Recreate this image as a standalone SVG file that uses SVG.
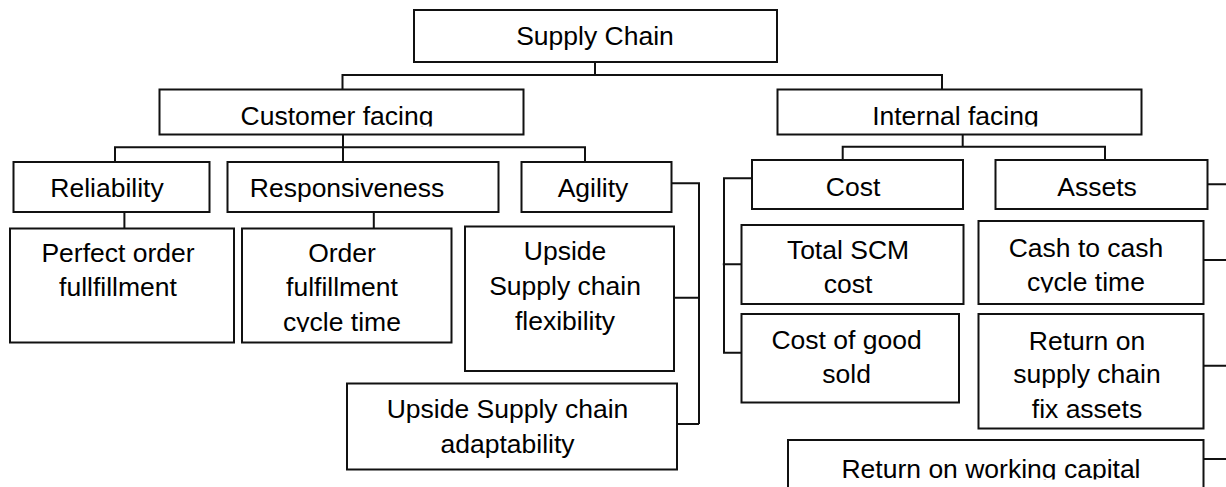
<svg xmlns="http://www.w3.org/2000/svg" width="1226" height="487" viewBox="0 0 1226 487">
<style>
.box{fill:#fff;stroke:#111;stroke-width:2}
.ln{fill:none;stroke:#111;stroke-width:2}
text{font-family:"Liberation Sans",Arial,sans-serif;font-size:26.5px;fill:#000;text-anchor:middle}
</style>
<defs>
<clipPath id="cCF"><rect x="160" y="90" width="363" height="36.5"/></clipPath>
<clipPath id="cIF"><rect x="778" y="90" width="363" height="36.5"/></clipPath>
<clipPath id="cOF"><rect x="243" y="229" width="208" height="103"/></clipPath>
<clipPath id="cCC"><rect x="979" y="222" width="224" height="70.5"/></clipPath>
<clipPath id="cRW"><rect x="789" y="441" width="414" height="38.5"/></clipPath>
</defs>
<g id="connectors">
<path class="ln" d="M595 62V75M342.5 89.5V75H942V89.5"/>
<path class="ln" d="M343 134.5V147.3M115 162V147.3H585V162M343 147.3V162"/>
<path class="ln" d="M124.4 212V228.5M373.8 212V228.5"/>
<path class="ln" d="M671.5 183.3H699V424M674 297.7H699M677 424H699"/>
<path class="ln" d="M962.7 134.5V146.7M842.7 160V146.7H1105V160"/>
<path class="ln" d="M752 178.3H724V352.7H741.5M722.8 264.3H741.5"/>
<path class="ln" d="M1207.5 184.3H1226M1203.5 260H1226M1203.5 365.7H1226M1203.5 459H1226"/>
</g>
<g id="supply-chain"><rect class="box" x="414" y="10" width="363" height="52"/><text x="595" y="45">Supply Chain</text></g>
<g id="customer-facing"><rect class="box" x="159.5" y="89.5" width="364" height="45"/><text x="337" y="125" clip-path="url(#cCF)">Customer facing</text></g>
<g id="internal-facing"><rect class="box" x="777.5" y="89.5" width="364" height="45"/><text x="955.4" y="125" clip-path="url(#cIF)">Internal facing</text></g>
<g id="reliability"><rect class="box" x="13.5" y="162" width="196" height="50"/><text x="107" y="197">Reliability</text></g>
<g id="responsiveness"><rect class="box" x="227.5" y="162" width="271" height="50"/><text x="347" y="197">Responsiveness</text></g>
<g id="agility"><rect class="box" x="521.5" y="162" width="150" height="50"/><text x="593" y="197">Agility</text></g>
<g id="cost"><rect class="box" x="752" y="160" width="211" height="49"/><text x="853" y="196">Cost</text></g>
<g id="assets"><rect class="box" x="995.5" y="160" width="212" height="49"/><text x="1097" y="196">Assets</text></g>
<g id="perfect-order"><rect class="box" x="10" y="228.5" width="224" height="114"/><text x="118" y="261.7">Perfect order</text><text x="118" y="296">fullfillment</text></g>
<g id="order-fulfillment"><rect class="box" x="242" y="228.5" width="209.5" height="114"/><g clip-path="url(#cOF)"><text x="342" y="261.7">Order</text><text x="342" y="296">fulfillment</text><text x="342" y="330.7">cycle time</text></g></g>
<g id="flexibility"><rect class="box" x="465" y="226.5" width="209" height="144.5"/><text x="565" y="260">Upside</text><text x="565" y="295">Supply chain</text><text x="565" y="330">flexibility</text></g>
<g id="adaptability"><rect class="box" x="347" y="383.5" width="330" height="86"/><text x="507.5" y="418.3">Upside Supply chain</text><text x="507.5" y="453.3">adaptability</text></g>
<g id="total-scm"><rect class="box" x="741.5" y="225" width="222" height="79"/><text x="848" y="259.3">Total SCM</text><text x="848" y="293.3">cost</text></g>
<g id="cogs"><rect class="box" x="741.5" y="314" width="217.5" height="88.5"/><text x="846.6" y="349.3">Cost of good</text><text x="846.6" y="382.7">sold</text></g>
<g id="cash-to-cash"><rect class="box" x="978.5" y="221" width="225" height="83"/><g clip-path="url(#cCC)"><text x="1086" y="256.7">Cash to cash</text><text x="1086" y="291">cycle time</text></g></g>
<g id="return-fixed"><rect class="box" x="978.5" y="314" width="225" height="114.5"/><text x="1087" y="350">Return on</text><text x="1087" y="383">supply chain</text><text x="1087" y="418">fix assets</text></g>
<g id="return-wc"><rect class="box" x="788" y="440" width="415.5" height="60"/><text x="991" y="478" clip-path="url(#cRW)">Return on working capital</text></g>
</svg>
